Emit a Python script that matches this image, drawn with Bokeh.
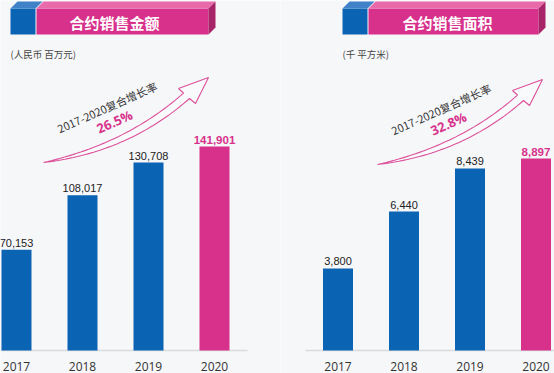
from bokeh.plotting import figure
from bokeh.layouts import row
from bokeh.models import Range1d, ColumnDataSource
from bokeh.embed import file_html
from bokeh.resources import INLINE
from bokeh.core.properties import value
import numpy as np

# ---------------- data ----------------
years = ["2017", "2018", "2019", "2020"]
sales_amount = [70153, 108017, 130708, 141901]   # RMB million
sales_area = [3800, 6440, 8439, 8897]            # thousand sqm
titles = ["合约销售金额", "合约销售面积"]
units = ["(人民币 百万元)", "(千 平方米)"]
cagr_label = "2017-2020复合增长率"
cagr_values = ["26.5%", "32.8%"]

# ---------------- style ----------------
BLUE = "#0b63b4"
BLUE_TOP = "#3f82c8"
PINK = "#d7318b"
PINK_TOP = "#e86aab"
PINK_SIDE = "#a82469"
BG = "#f6f7f9"
CJK = "Noto Sans CJK SC"
H = 373
BASE = 350      # page y of bar baseline
STEP = 66       # px between bar centres
BAR_W = 30


def bez(p0, p1, p2, n=40):
    t = np.linspace(0, 1, n)
    x = (1 - t) ** 2 * p0[0] + 2 * (1 - t) * t * p1[0] + t ** 2 * p2[0]
    y = (1 - t) ** 2 * p0[1] + 2 * (1 - t) * t * p1[1] + t ** 2 * p2[1]
    return list(x), list(y)


def panel(values, page_left, width, first_center, px_per_unit, title,
          unit, pct, banner, title_cx, dx, dy, line_span):
    x0 = -(first_center - page_left) / STEP

    def X(px):
        return x0 + (px - page_left) / STEP

    def Y(py):
        return (BASE - py) / px_per_unit

    p = figure(width=width, height=H, output_backend="svg", toolbar_location=None,
               x_range=Range1d(x0, x0 + width / STEP),
               y_range=Range1d(Y(H), Y(0)),
               x_axis_location=None, y_axis_location=None, min_border=0)
    p.background_fill_color = BG
    p.border_fill_color = BG
    p.outline_line_color = None
    p.grid.visible = False

    idx = list(range(len(years)))

    # baseline
    p.segment(x0=[X(line_span[0])], y0=[0], x1=[X(line_span[1])], y1=[0],
              line_color="#d9dadd", line_width=1.5)

    colors = [BLUE] * (len(years) - 1) + [PINK]
    src = ColumnDataSource(dict(
        x=idx, top=values, color=colors, year=years,
        label=[f"{v:,}" for v in values],
        tcolor=["#222222"] * (len(years) - 1) + [PINK],
        tstyle=["normal"] * (len(years) - 1) + ["bold"],
        tsize=["11px"] * (len(years) - 1) + ["11.5px"],
        ybase=[Y(365.5)] * len(years),
    ))
    p.vbar(x="x", top="top", width=BAR_W / STEP, fill_color="color",
           line_color=None, source=src)
    p.text(x="x", y="top", text="label", text_color="tcolor",
           text_font_style="tstyle", text_font_size="tsize",
           text_font=value("Liberation Sans"), text_align="center",
           text_baseline="bottom", y_offset=-3, source=src)
    # category (year) labels
    p.text(x="x", y="ybase", text="year", text_color="#333333",
           text_font=value("Open Sans"), text_font_size="12px",
           text_align="center", text_baseline="middle", source=src)

    # banner
    bl, br, pr, top, bot, d = banner
    dyb = 7
    xs = [
        [X(bl), X(br), X(br), X(bl)],
        [X(br + 1), X(pr), X(pr), X(br + 1)],
        [X(bl), X(br), X(br + d), X(bl + d)],
        [X(br + 1), X(pr), X(pr + d), X(br + 1 + d)],
        [X(pr), X(pr + d), X(pr + d), X(pr)],
    ]
    ys = [
        [Y(top), Y(top), Y(bot), Y(bot)],
        [Y(top), Y(top), Y(bot), Y(bot)],
        [Y(top), Y(top), Y(top - dyb), Y(top - dyb)],
        [Y(top), Y(top), Y(top - dyb), Y(top - dyb)],
        [Y(top), Y(top - dyb), Y(bot - dyb), Y(bot)],
    ]
    p.patches(xs=xs, ys=ys, fill_color=[BLUE, PINK, BLUE_TOP, PINK_TOP, PINK_SIDE],
              line_color=None)
    p.text(x=[X(title_cx)], y=[Y((top + bot) / 2 + 0.5)], text=[title],
           text_color="white", text_font=value(CJK), text_font_style="bold",
           text_font_size="15px", text_align="center", text_baseline="middle")

    # unit
    p.text(x=[X(bl)], y=[Y(53)], text=[unit], text_color="#444444",
           text_font=value(CJK), text_font_size="9.5px", text_align="left",
           text_baseline="middle")

    # arrow (outlined, curved)
    tail = (43 + dx, 162 + dy)
    ux, uy = bez(tail, (127 + dx, 142.8 + dy), (183 + dx, 92.5 + dy))
    lx, ly = bez(tail, (128 + dx, 152 + dy), (189 + dx, 98 + dy))
    hx = [178 + dx, 208 + dx, 195 + dx]
    hy = [88 + dy, 77 + dy, 103 + dy]
    px_ = ux + hx + lx[::-1]
    py_ = uy + hy + ly[::-1]
    p.patch(x=[X(v) for v in px_], y=[Y(v) for v in py_], fill_color="white",
            fill_alpha=0.35, line_color="#dc4f9a", line_width=1.1)

    p.text(x=[X(106.5 + dx)], y=[Y(106.5 + dy)], text=[cagr_label], angle=24,
           angle_units="deg", text_color="#333333", text_font=value(CJK),
           text_font_size="11px", text_align="center", text_baseline="middle")
    p.text(x=[X(114 + dx)], y=[Y(121 + dy)], text=[pct], angle=24,
           angle_units="deg", text_color=PINK, text_font=value("Open Sans"),
           text_font_style="bold", text_font_size="13px", text_align="center",
           text_baseline="middle")
    return p


p1 = panel(sales_amount, 0, 280, 16, 204 / 141901, titles[0], units[0],
           cagr_values[0], (10, 35, 208, 8, 34, 7), 114, 0, 0, (0, 247))
p2 = panel(sales_area, 280, 274, 337.5, 192 / 8897, titles[1], units[1],
           cagr_values[1], (342, 367, 538, 8, 34, 7), 447, 334, 2, (305, 554))

layout = row(p1, p2)
open("out.html", "w").write(file_html(layout, INLINE))
